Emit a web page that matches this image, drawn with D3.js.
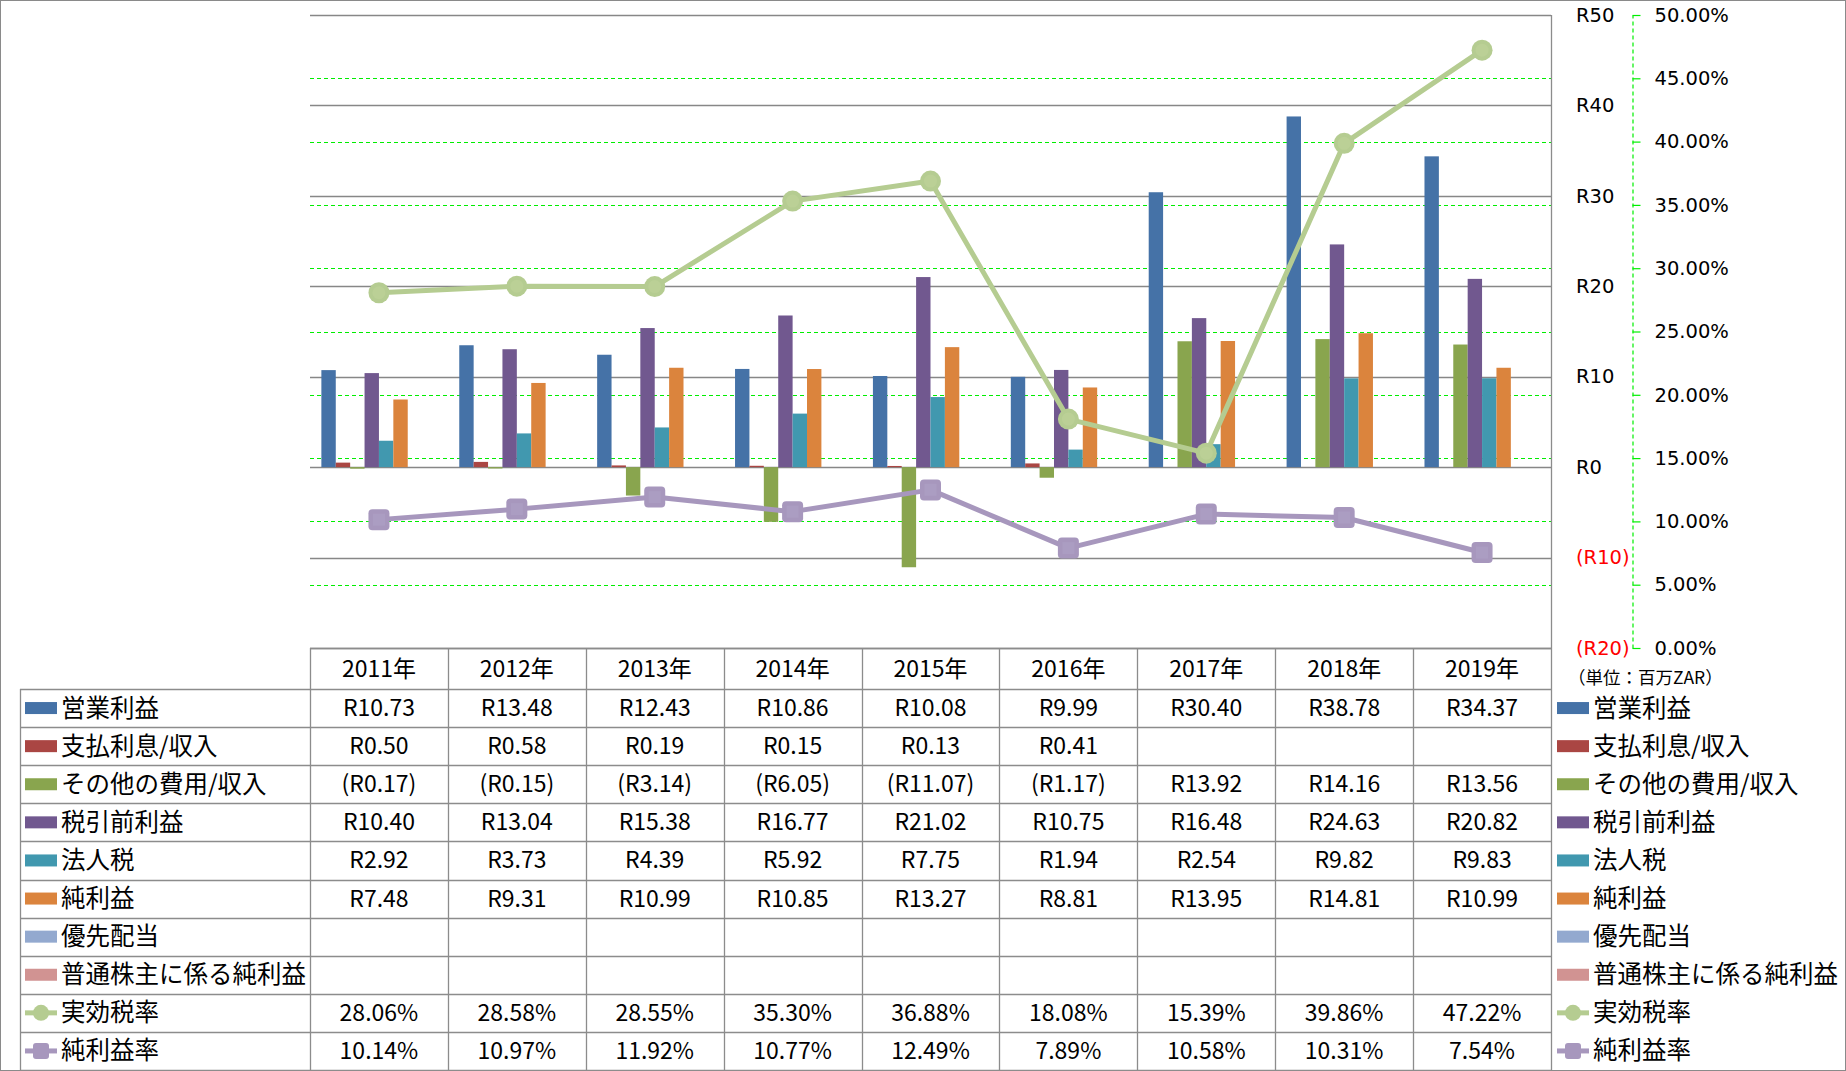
<!DOCTYPE html>
<html><head><meta charset="utf-8">
<script src="https://cdn.jsdelivr.net/npm/d3@7"></script>
<style>body{margin:0;background:#fff} svg{display:block}</style>
</head><body><svg id="c" width="1846" height="1071"></svg>
<script>
// ---------- data ----------
const years = ["2011年","2012年","2013年","2014年","2015年","2016年","2017年","2018年","2019年"];
const seriesNames = ["営業利益","支払利息/収入","その他の費用/収入","税引前利益","法人税","純利益","優先配当","普通株主に係る純利益","実効税率","純利益率"];
const opIncome   = [10.73, 13.48, 12.43, 10.86, 10.08, 9.99, 30.40, 38.78, 34.37];
const interest   = [0.50, 0.58, 0.19, 0.15, 0.13, 0.41, null, null, null];
const otherExp   = [-0.17, -0.15, -3.14, -6.05, -11.07, -1.17, 13.92, 14.16, 13.56];
const preTax     = [10.40, 13.04, 15.38, 16.77, 21.02, 10.75, 16.48, 24.63, 20.82];
const incomeTax  = [2.92, 3.73, 4.39, 5.92, 7.75, 1.94, 2.54, 9.82, 9.83];
const netIncome  = [7.48, 9.31, 10.99, 10.85, 13.27, 8.81, 13.95, 14.81, 10.99];
const prefDiv    = [null, null, null, null, null, null, null, null, null];
const commonNet  = [null, null, null, null, null, null, null, null, null];
const effTaxRate = [28.06, 28.58, 28.55, 35.30, 36.88, 18.08, 15.39, 39.86, 47.22];
const netMargin  = [10.14, 10.97, 11.92, 10.77, 12.49, 7.89, 10.58, 10.31, 7.54];
const rTicks   = [50, 40, 30, 20, 10, 0, -10, -20];
const pctTicks = [0, 5, 10, 15, 20, 25, 30, 35, 40, 45, 50];
const unitLabel = "（単位：百万ZAR）";

const barSeries = [opIncome, interest, otherExp, preTax, incomeTax, netIncome, prefDiv, commonNet];
const lineSeries = [effTaxRate, netMargin];
const colors = ["#4572A7","#AA4643","#89A54E","#71588F","#4198AF","#DB843D","#93A9CF","#D19392","#B5CC91","#A797BD"];

// ---------- layout ----------
const svg = d3.select("#c");
const L = 310, R = 1551, T = 15, B = 648;
const tableTop = 648, headH = 41, rowH = 38.1, legL = 20;
const JP = "'Noto Sans CJK JP', sans-serif";
const AX = "'DejaVu Sans', Verdana, sans-serif";

const x0 = d3.scaleBand().domain(years).range([L, R]).padding(0);
const x1 = d3.scaleBand().domain(d3.range(barSeries.length)).range([0, x0.bandwidth()]).paddingInner(0).paddingOuter(0.79);
const yR = d3.scaleLinear().domain([-20, 50]).range([B, T]);
const yP = d3.scaleLinear().domain([0, 50]).range([B, T]);

// outer border
svg.append("rect").attr("x",0.5).attr("y",0.5).attr("width",1845).attr("height",1070)
  .attr("fill","#fff").attr("stroke","#8a8a8a").attr("stroke-width",1);

// gray gridlines
svg.append("g").selectAll("line").data(rTicks).join("line")
  .attr("x1",L).attr("x2",R).attr("y1",d=>Math.round(yR(d))+0.5).attr("y2",d=>Math.round(yR(d))+0.5)
  .attr("stroke","#878787").attr("stroke-width",1.3);
// green dashed gridlines
svg.append("g").selectAll("line").data(pctTicks.filter(d=>d>0&&d<50)).join("line")
  .attr("x1",L).attr("x2",R).attr("y1",d=>Math.round(yP(d))+0.5).attr("y2",d=>Math.round(yP(d))+0.5)
  .attr("stroke","#00ee00").attr("stroke-width",1.2).attr("stroke-dasharray","4,3");

// bars
barSeries.forEach((vals, i) => {
  svg.append("g").attr("fill", colors[i]).selectAll("rect")
    .data(vals.map((v,j)=>({v, y:years[j]})).filter(d=>d.v!=null)).join("rect")
    .attr("x", d => x0(d.y) + x1(i))
    .attr("width", x1.bandwidth())
    .attr("y", d => yR(Math.max(0, d.v)))
    .attr("height", d => Math.abs(yR(d.v) - yR(0)));
});

// lines
const cx = j => x0(years[j]) + x0.bandwidth()/2;
lineSeries.forEach((vals, k) => {
  const col = colors[8+k];
  const line = d3.line().x((d,j)=>cx(j)).y(d=>yP(d));
  svg.append("path").datum(vals).attr("d", line).attr("fill","none")
    .attr("stroke", col).attr("stroke-width", 5).attr("stroke-linejoin","round");
  const g = svg.append("g");
  if (k === 0) {
    g.selectAll("circle").data(vals).join("circle")
      .attr("cx",(d,j)=>cx(j)).attr("cy",d=>yP(d)).attr("r",10.5).attr("fill",col);
    g.selectAll("circle.in").data(vals).join("circle").attr("class","in")
      .attr("cx",(d,j)=>cx(j)).attr("cy",d=>yP(d)).attr("r",6.5).attr("fill","#BBD096");
  } else {
    g.selectAll("rect").data(vals).join("rect")
      .attr("x",(d,j)=>cx(j)-10.5).attr("y",d=>yP(d)-10.5).attr("width",21).attr("height",21)
      .attr("rx",4).attr("fill",col);
    g.selectAll("rect.in").data(vals).join("rect").attr("class","in")
      .attr("x",(d,j)=>cx(j)-6).attr("y",d=>yP(d)-6).attr("width",12).attr("height",12)
      .attr("fill","#AB9DC2");
  }
});

// R axis (labels only)
const fmtR = v => v < 0 ? `(R${Math.abs(v)})` : `R${v}`;
const axR = svg.append("g").attr("transform","translate(1576,0)")
  .call(d3.axisRight(yR).tickValues(rTicks).tickSize(0).tickPadding(0).tickFormat(fmtR));
axR.select(".domain").remove();
axR.selectAll("text").attr("font-family",AX).attr("font-size",19.5)
  .attr("fill",d=>d<0?"#ff0000":"#000");

// percent axis
const axP = svg.append("g").attr("transform","translate(1632.5,0)")
  .call(d3.axisRight(yP).tickValues(pctTicks).tickSize(8).tickSizeOuter(0).tickPadding(14).tickFormat(d=>d.toFixed(2)+"%"));
axP.select(".domain").attr("stroke","#00ee00").attr("stroke-dasharray","4,3").attr("stroke-width",1.2);
axP.selectAll(".tick line").attr("stroke","#00ee00").attr("stroke-width",1.2);
axP.selectAll("text").attr("font-family",AX).attr("font-size",19.5).attr("fill","#000");

// unit label
svg.append("text").attr("x",1568).attr("y",676).attr("dominant-baseline","central")
  .attr("font-family",JP).attr("font-size",17.5).text(unitLabel);

// ---------- data table ----------
const tg = svg.append("g");
const gridCol = "#8c8c8c";
const rowTop = i => tableTop + headH + rowH*i;
const bottom = rowTop(seriesNames.length);
const dy = -2;
// horizontal lines
tg.append("line").attr("x1",L).attr("x2",R).attr("y1",tableTop+0.5).attr("y2",tableTop+0.5)
  .attr("stroke",gridCol).attr("stroke-width",1.3);
d3.range(seriesNames.length+1).forEach(i=>{
  tg.append("line").attr("x1",legL).attr("x2",R).attr("y1",Math.round(rowTop(i))+0.5).attr("y2",Math.round(rowTop(i))+0.5)
    .attr("stroke",gridCol).attr("stroke-width",1.3);
});
// vertical lines
tg.append("line").attr("x1",legL+0.5).attr("x2",legL+0.5).attr("y1",rowTop(0)).attr("y2",bottom).attr("stroke",gridCol).attr("stroke-width",1.3);
years.forEach(y=>{
  const xx = Math.round(x0(y))+0.5;
  tg.append("line").attr("x1",xx).attr("x2",xx).attr("y1",tableTop).attr("y2",bottom).attr("stroke",gridCol).attr("stroke-width",1.3);
});
tg.append("line").attr("x1",R+0.5).attr("x2",R+0.5).attr("y1",T).attr("y2",bottom).attr("stroke",gridCol).attr("stroke-width",1.3);

// header
tg.selectAll("text.h").data(years).join("text").attr("class","h")
  .attr("x",d=>x0(d)+x0.bandwidth()/2).attr("y",tableTop+headH/2+dy)
  .attr("text-anchor","middle").attr("dominant-baseline","central")
  .attr("font-family",JP).attr("font-size",23).text(d=>d);

// values
const fmtMoney = v => v == null ? "" : (v < 0 ? `(R${Math.abs(v).toFixed(2)})` : `R${v.toFixed(2)}`);
const fmtPct = v => v == null ? "" : v.toFixed(2) + "%";
const allSeries = barSeries.concat(lineSeries);
allSeries.forEach((vals, i) => {
  const f = i >= 8 ? fmtPct : fmtMoney;
  tg.append("g").selectAll("text").data(vals).join("text")
    .attr("x",(d,j)=>x0(years[j])+x0.bandwidth()/2).attr("y",rowTop(i)+rowH/2+dy)
    .attr("text-anchor","middle").attr("dominant-baseline","central")
    .attr("font-family",JP).attr("font-size",23).text(d=>f(d));
});

// legends (left in table, right outside)
function legendKey(g, x, yc, i) {
  if (i < 8) {
    g.append("rect").attr("x",x).attr("y",yc-6).attr("width",32).attr("height",12).attr("fill",colors[i]);
  } else {
    g.append("line").attr("x1",x).attr("x2",x+32).attr("y1",yc).attr("y2",yc).attr("stroke",colors[i]).attr("stroke-width",5);
    if (i === 8) g.append("circle").attr("cx",x+16).attr("cy",yc).attr("r",8).attr("fill",colors[i]);
    else g.append("rect").attr("x",x+8).attr("y",yc-8).attr("width",16).attr("height",16).attr("rx",3).attr("fill",colors[i]);
  }
}
seriesNames.forEach((name, i) => {
  const yc = rowTop(i) + rowH/2;
  legendKey(tg, 25, yc, i);
  tg.append("text").attr("x",61).attr("y",yc+dy).attr("dominant-baseline","central")
    .attr("font-family",JP).attr("font-size",24.5).text(name);
  legendKey(tg, 1557, yc, i);
  tg.append("text").attr("x",1593).attr("y",yc+dy).attr("dominant-baseline","central")
    .attr("font-family",JP).attr("font-size",24.5).text(name);
});
</script></body></html>
